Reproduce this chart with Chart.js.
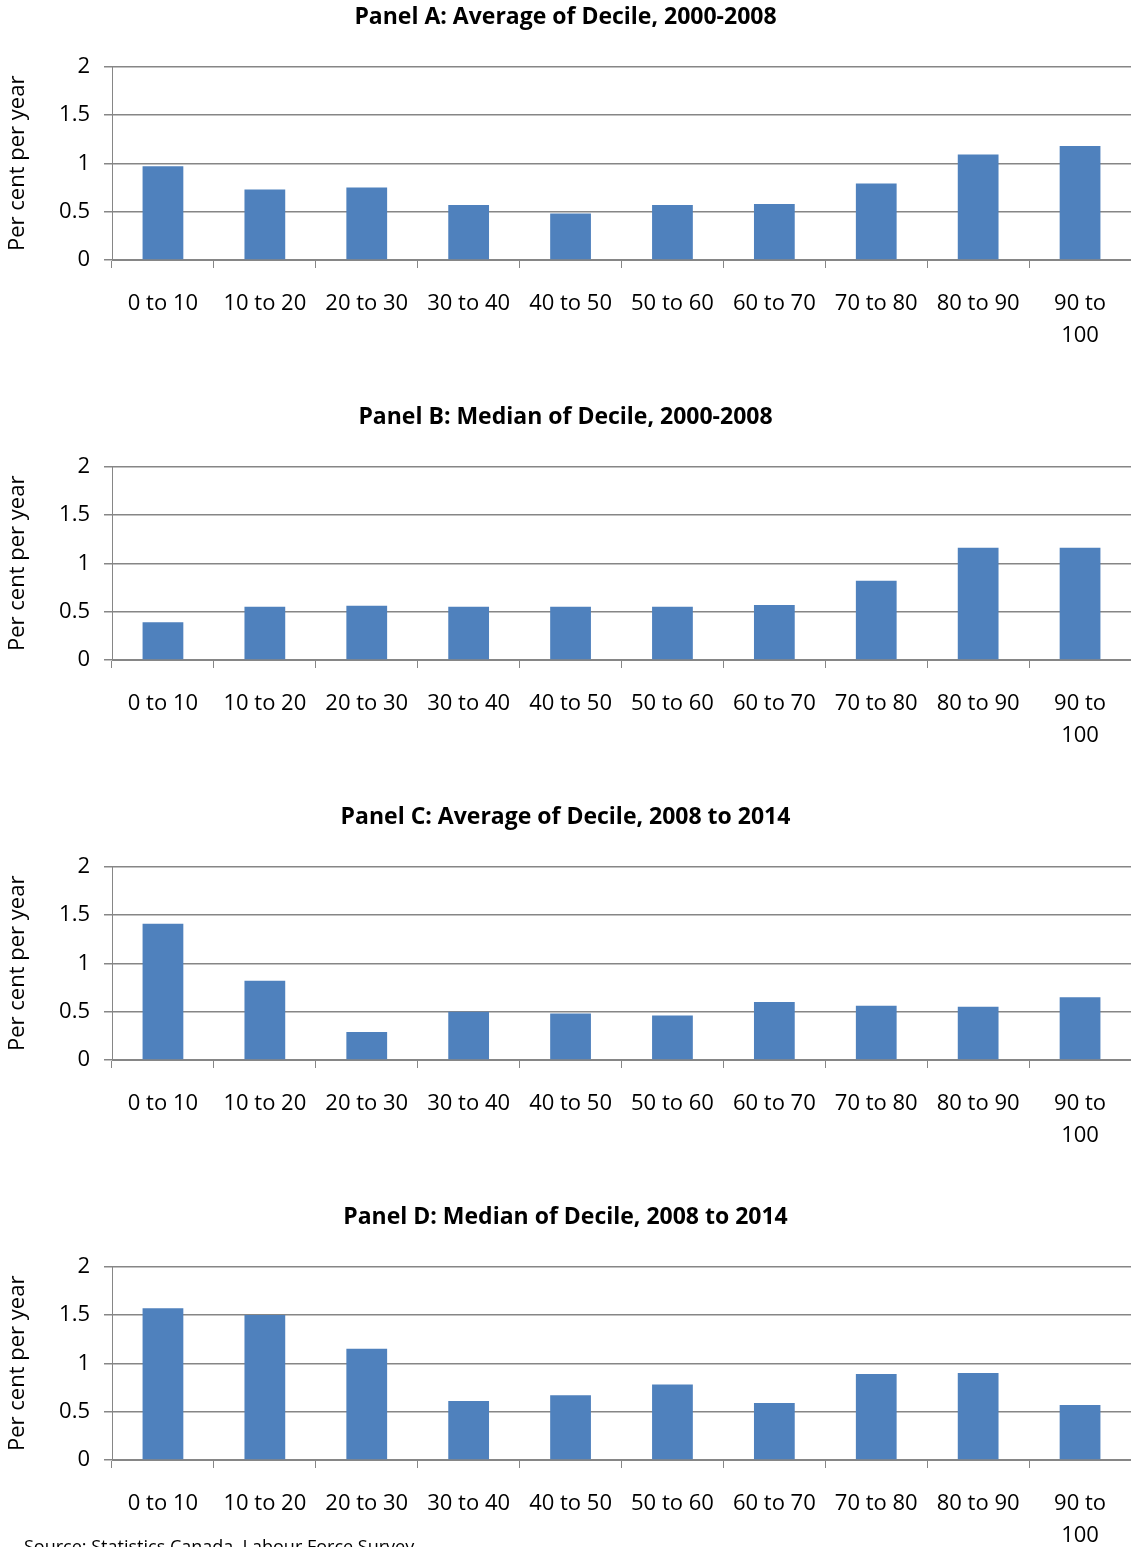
<!DOCTYPE html>
<html>
<head>
<meta charset="utf-8">
<script src="https://cdn.jsdelivr.net/npm/chart.js@4/dist/chart.umd.min.js"></script>
<style>
  html, body { margin: 0; padding: 0; background: #fff; }
  body { width: 1131px; height: 1547px; overflow: hidden; position: relative; }
  canvas { position: absolute; left: 0; }
  #fuente { position: absolute; left: 24px; top: 1534px; font: 18px "Open Sans", sans-serif; color: #000; white-space: nowrap; }
</style>
</head>
<body>
<canvas id="panelA" width="1131" height="400" style="top:0px"></canvas>
<canvas id="panelB" width="1131" height="400" style="top:400px"></canvas>
<canvas id="panelC" width="1131" height="400" style="top:800px"></canvas>
<canvas id="panelD" width="1131" height="400" style="top:1200px"></canvas>
<div id="fuente">Source: Statistics Canada, Labour Force Survey</div>
<script>
// Deciles
const categorias = ['0 to 10', '10 to 20', '20 to 30', '30 to 40', '40 to 50',
                    '50 to 60', '60 to 70', '70 to 80', '80 to 90', ['90 to', '100']];

// Valores (per cent per year)
const mediaA   = [0.97, 0.73, 0.75, 0.57, 0.48, 0.57, 0.58, 0.79, 1.09, 1.18];
const medianaB = [0.39, 0.55, 0.56, 0.55, 0.55, 0.55, 0.57, 0.82, 1.16, 1.16];
const mediaC   = [1.41, 0.82, 0.29, 0.50, 0.48, 0.46, 0.60, 0.56, 0.55, 0.65];
const medianaD = [1.57, 1.50, 1.15, 0.61, 0.67, 0.78, 0.59, 0.89, 0.90, 0.57];

const ticksY = [0, 0.5, 1, 1.5, 2];

const titulos = [
    'Panel A: Average of Decile, 2000-2008',
    'Panel B: Median of Decile, 2000-2008',
    'Panel C: Average of Decile, 2008 to 2014',
    'Panel D: Median of Decile, 2008 to 2014'
];

const fuente = '"Open Sans", sans-serif';
const gris = '#868686';

function crearPanel(id, titulo, valores) {
    const ctx = document.getElementById(id).getContext('2d');
    return new Chart(ctx, {
        type: 'bar',
        data: {
            labels: categorias,
            datasets: [{
                data: valores,
                backgroundColor: '#4F81BD',
                borderWidth: 0,
                barPercentage: 0.4,
                categoryPercentage: 1.0
            }]
        },
        options: {
            responsive: false,
            animation: false,
            devicePixelRatio: 1,
            layout: { padding: 0 },
            plugins: {
                legend: { display: false },
                tooltip: { enabled: false },
                title: {
                    display: true,
                    text: titulo,
                    color: '#000',
                    font: { family: fuente, size: 23, weight: 'bold', lineHeight: 1.2 },
                    padding: { top: 4, bottom: 35 }
                }
            },
            scales: {
                x: {
                    afterFit: function (scale) { scale.height = 140; },
                    grid: {
                        offset: true,
                        drawOnChartArea: false,
                        drawTicks: true,
                        tickLength: 8,
                        color: gris
                    },
                    border: { color: gris, width: 1 },
                    ticks: {
                        autoSkip: false,
                        maxRotation: 0,
                        minRotation: 0,
                        padding: 20,
                        color: '#000',
                        font: { family: fuente, size: 22, lineHeight: 1.45 }
                    }
                },
                y: {
                    min: 0,
                    max: 2,
                    afterFit: function (scale) { scale.width = 112; },
                    afterBuildTicks: function (scale) {
                        scale.ticks = ticksY.map(v => ({ value: v }));
                    },
                    grid: {
                        color: gris,
                        lineWidth: 1.5,
                        tickLength: 8
                    },
                    border: { color: gris, width: 1 },
                    ticks: {
                        padding: 14,
                        color: '#000',
                        font: { family: fuente, size: 22 },
                        callback: function (v) { return String(v); }
                    },
                    title: {
                        display: true,
                        text: 'Per cent per year',
                        color: '#000',
                        font: { family: fuente, size: 22, lineHeight: 1.2 },
                        padding: { top: 5, bottom: 0 }
                    }
                }
            }
        }
    });
}

crearPanel('panelA', titulos[0], mediaA);
crearPanel('panelB', titulos[1], medianaB);
crearPanel('panelC', titulos[2], mediaC);
crearPanel('panelD', titulos[3], medianaD);
</script>
</body>
</html>
